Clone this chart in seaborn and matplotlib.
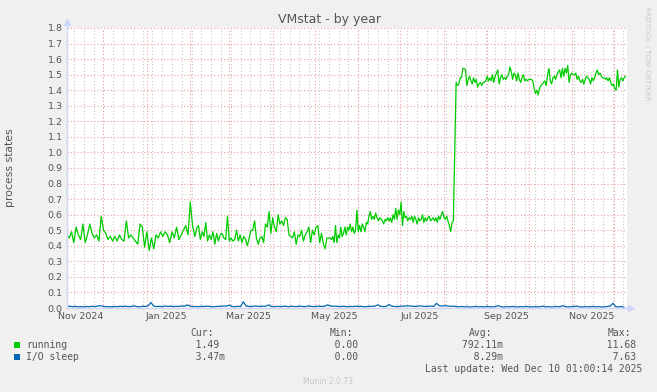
#!/usr/bin/env python3
"""
Munin style VMstat yearly graph (process states)
"""

import pandas as pd
import numpy as np
import matplotlib
matplotlib.use('Agg')
import matplotlib.pyplot as plt
from matplotlib.patches import Rectangle
import seaborn as sns

# running processes in four stretches
running_nov_feb = [0.47, 0.45, 0.49, 0.42, 0.52, 0.47, 0.44, 0.54, 0.42, 0.47, 0.54, 0.48, 0.45, 0.47,
                   0.43, 0.59, 0.50, 0.48, 0.44, 0.46, 0.43, 0.46, 0.43, 0.47, 0.44, 0.43, 0.56, 0.45,
                   0.47, 0.45, 0.43, 0.41, 0.54, 0.52, 0.39, 0.49, 0.37, 0.45, 0.38, 0.47, 0.45, 0.49,
                   0.46, 0.49, 0.47, 0.42, 0.49, 0.45, 0.52, 0.44, 0.47, 0.50, 0.53, 0.47, 0.68, 0.53,
                   0.46, 0.52]
running_feb_may = [0.53, 0.44, 0.49, 0.46, 0.55, 0.43, 0.47, 0.44, 0.49, 0.41, 0.48, 0.43, 0.47, 0.48,
                   0.45, 0.44, 0.59, 0.43, 0.45, 0.43, 0.44, 0.50, 0.43, 0.47, 0.42, 0.46, 0.44, 0.40,
                   0.45, 0.50, 0.50, 0.56, 0.45, 0.41, 0.45, 0.46, 0.42, 0.54, 0.52, 0.62, 0.48, 0.58,
                   0.52, 0.49, 0.60, 0.54, 0.56, 0.53, 0.58, 0.57, 0.47, 0.46, 0.45, 0.49, 0.41, 0.47,
                   0.46, 0.50, 0.43, 0.47, 0.49, 0.52, 0.42, 0.50, 0.47, 0.52, 0.53, 0.42, 0.48, 0.41,
                   0.38, 0.45, 0.45]
running_may_aug = [0.45, 0.44, 0.46, 0.42, 0.53, 0.42, 0.47, 0.45, 0.52, 0.46, 0.48, 0.52, 0.47, 0.52,
                   0.50, 0.54, 0.49, 0.52, 0.48, 0.50, 0.63, 0.49, 0.53, 0.49, 0.54, 0.52, 0.49, 0.55,
                   0.54, 0.59, 0.62, 0.57, 0.59, 0.57, 0.61, 0.58, 0.56, 0.58, 0.57, 0.56, 0.54, 0.57,
                   0.56, 0.58, 0.56, 0.58, 0.55, 0.60, 0.57, 0.64, 0.57, 0.63, 0.60, 0.68, 0.53, 0.62,
                   0.58, 0.59, 0.56, 0.58, 0.57, 0.59, 0.55, 0.59, 0.57, 0.54, 0.58, 0.56, 0.57, 0.60,
                   0.55, 0.58, 0.56, 0.58, 0.59, 0.56, 0.57, 0.58, 0.56, 0.58, 0.55, 0.59, 0.57, 0.60,
                   0.62, 0.58, 0.57, 0.59, 0.56, 0.53, 0.49, 0.55, 0.56]
running_aug_dec = [1.45, 1.43, 1.44, 1.48, 1.48, 1.54, 1.54, 1.53, 1.43, 1.47, 1.49, 1.46, 1.44, 1.48,
                   1.45, 1.47, 1.42, 1.44, 1.45, 1.43, 1.45, 1.45, 1.46, 1.49, 1.46, 1.48, 1.46, 1.50,
                   1.45, 1.49, 1.51, 1.53, 1.44, 1.48, 1.50, 1.47, 1.48, 1.47, 1.49, 1.50, 1.55, 1.52,
                   1.47, 1.51, 1.50, 1.46, 1.51, 1.47, 1.45, 1.48, 1.50, 1.46, 1.47, 1.46, 1.47, 1.47,
                   1.47, 1.46, 1.41, 1.38, 1.40, 1.37, 1.41, 1.43, 1.44, 1.45, 1.46, 1.43, 1.50, 1.54,
                   1.46, 1.44, 1.48, 1.49, 1.47, 1.50, 1.52, 1.53, 1.48, 1.54, 1.49, 1.54, 1.51, 1.56,
                   1.45, 1.50, 1.51, 1.50, 1.50, 1.51, 1.47, 1.49, 1.46, 1.45, 1.47, 1.44, 1.47, 1.49,
                   1.48, 1.47, 1.44, 1.48, 1.46, 1.48, 1.51, 1.53, 1.50, 1.51, 1.49, 1.48, 1.48, 1.47,
                   1.48, 1.46, 1.48, 1.45, 1.43, 1.44, 1.41, 1.40, 1.53, 1.42, 1.47, 1.48, 1.46, 1.48,
                   1.49]
running_periods = [('2024-11-05', '2025-02-06'), ('2025-02-07', '2025-05-11'),
                   ('2025-05-12', '2025-08-08'), ('2025-08-10', '2025-12-09')]

# I/O sleep, one reading every two days from 2024-11-05
io_sleep = [0.010, 0.012, 0.008, 0.011, 0.007, 0.009, 0.006, 0.010, 0.008, 0.011,
            0.009, 0.013, 0.015, 0.010, 0.008, 0.009, 0.007, 0.010, 0.008, 0.011,
            0.009, 0.012, 0.008, 0.010, 0.013, 0.009, 0.007, 0.011, 0.010, 0.014,
            0.035, 0.012, 0.009, 0.011, 0.008, 0.013, 0.010, 0.012, 0.009, 0.011,
            0.010, 0.013, 0.011, 0.020, 0.012, 0.009, 0.010, 0.008, 0.011, 0.009,
            0.012, 0.010, 0.008, 0.009, 0.011, 0.010, 0.013, 0.012, 0.018, 0.010,
            0.008, 0.011, 0.009, 0.040, 0.012, 0.010, 0.009, 0.013, 0.011, 0.010,
            0.012, 0.011, 0.020, 0.010, 0.008, 0.011, 0.009, 0.010, 0.012, 0.008,
            0.011, 0.010, 0.009, 0.012, 0.010, 0.008, 0.013, 0.011, 0.009, 0.010,
            0.012, 0.010, 0.011, 0.020, 0.013, 0.011, 0.012, 0.009, 0.010, 0.011,
            0.008, 0.010, 0.009, 0.012, 0.010, 0.011, 0.008, 0.009, 0.011, 0.010,
            0.012, 0.020, 0.011, 0.009, 0.010, 0.022, 0.012, 0.010, 0.009, 0.011,
            0.012, 0.013, 0.014, 0.012, 0.010, 0.011, 0.013, 0.012, 0.010, 0.011,
            0.012, 0.010, 0.030, 0.014, 0.012, 0.015, 0.013, 0.011, 0.012, 0.009,
            0.008, 0.010, 0.007, 0.009, 0.006, 0.008, 0.010, 0.007, 0.009, 0.006,
            0.010, 0.008, 0.007, 0.009, 0.015, 0.008, 0.006, 0.009, 0.007, 0.010,
            0.008, 0.006, 0.009, 0.007, 0.010, 0.008, 0.006, 0.009, 0.007, 0.008,
            0.012, 0.007, 0.009, 0.006, 0.008, 0.010, 0.007, 0.015, 0.009, 0.007,
            0.008, 0.010, 0.012, 0.008, 0.006, 0.009, 0.007, 0.008, 0.010, 0.007,
            0.009, 0.006, 0.008, 0.010, 0.012, 0.030, 0.009, 0.007, 0.010, 0.004]

x_tick_labels = ['Nov 2024', 'Jan 2025', 'Mar 2025', 'May 2025', 'Jul 2025', 'Sep 2025', 'Nov 2025']
y_ticks = [0.0, 0.1, 0.2, 0.3, 0.4, 0.5, 0.6, 0.7, 0.8, 0.9, 1.0, 1.1, 1.2, 1.3, 1.4, 1.5, 1.6, 1.7, 1.8]

series_names = ['running', 'I/O sleep']
series_colors = ['#00CC00', '#0066B3']
cur_vals = ['1.49', '3.47m']
min_vals = ['0.00', '0.00']
avg_vals = ['792.11m', '8.29m']
max_vals = ['11.68', '7.63']
last_update = 'Last update: Wed Dec 10 01:00:14 2025'

W, H = 657, 392
TEXT = '#555555'
FAINT = '#c8c8c8'
AXIS = '#CFD6F8'
CHAR_W = 0.602 * 7 / 72 * 100  # DejaVu Sans Mono advance at 7pt


def fx(x):
    return x / W


def fy(y):
    return 1 - y / H


def build_frame():
    frames = []
    for vals, (start, end) in zip([running_nov_feb, running_feb_may, running_may_aug, running_aug_dec],
                                  running_periods):
        frames.append(pd.DataFrame({'date': pd.date_range(start, end, periods=len(vals)),
                                    'value': vals}))
    running = pd.concat(frames)
    running['series'] = series_names[0]
    io = pd.DataFrame({'date': pd.date_range('2024-11-05', periods=len(io_sleep), freq='2D'),
                       'value': io_sleep})
    io['series'] = series_names[1]
    return pd.concat([running, io], ignore_index=True)


def main():
    sns.set_style('white')
    plt.rcParams['font.family'] = ['DejaVu Sans']

    df = build_frame()

    fig = plt.figure(figsize=(W / 100, H / 100), dpi=100, facecolor='#F0F0F0')
    ax = fig.add_axes([fx(67), fy(308), fx(560), 280 / H])
    ax.set_facecolor('white')

    t0 = pd.Timestamp('2024-11-05 01:00')
    t1 = pd.Timestamp('2025-12-10 01:00')

    # grid: weekly gray, monthly red, every 0.1 red
    for d in pd.date_range('2024-11-10', '2025-12-07', freq='W-SUN'):
        ax.axvline(d, color=FAINT, lw=0.8, ls=(0, (1, 2)), zorder=0.5)
    for d in pd.date_range('2024-12-01', '2025-12-01', freq='MS'):
        ax.axvline(d, color='#eaa0a0', lw=0.8, ls=(0, (1, 2)), zorder=0.6)
    for v in y_ticks[1:]:
        ax.axhline(v, color='#eaa0a0', lw=0.8, ls=(0, (1, 2)), zorder=0.6)

    sns.lineplot(data=df, x='date', y='value', hue='series',
                 palette=dict(zip(series_names, series_colors)),
                 estimator=None, legend=False, linewidth=0.9, ax=ax, zorder=3)

    ax.set_xlim(t0, t1)
    ax.set_ylim(0, 1.8)

    label_pos = pd.date_range('2024-11-01', '2025-11-01', freq='2MS') + pd.Timedelta(days=14)
    ax.set_xticks(label_pos)
    ax.set_xticklabels(x_tick_labels)
    ax.set_yticks(y_ticks)
    ax.set_yticklabels([f'{v:.1f}' for v in y_ticks])
    ax.tick_params(axis='both', length=0, labelsize=6.8, colors=TEXT, pad=3)
    ax.set_xlabel('')
    ax.set_ylabel('')

    for side in ['top', 'right']:
        ax.spines[side].set_visible(False)
    for side in ['left', 'bottom']:
        ax.spines[side].set_color(AXIS)
        ax.spines[side].set_linewidth(1.0)
        ax.spines[side].set_zorder(4)

    # axis arrows
    ax.plot([0, 0], [1, 1.02], color=AXIS, lw=1, transform=ax.transAxes, clip_on=False)
    ax.plot([0], [1.02], marker='^', ms=4, color=AXIS, transform=ax.transAxes, clip_on=False)
    ax.plot([1, 1.008], [0, 0], color=AXIS, lw=1, transform=ax.transAxes, clip_on=False)
    ax.plot([1.008], [0], marker='>', ms=4, color=AXIS, transform=ax.transAxes, clip_on=False)

    fig.text(fx(329), fy(19), 'VMstat - by year', ha='center', va='center', fontsize=9, color=TEXT)
    fig.text(fx(10), fy(168), 'process states', ha='center', va='center', rotation=90,
             fontsize=7.8, color=TEXT)
    fig.text(fx(647), fy(53), 'RRDTOOL / TOBI OETIKER', ha='center', va='center', rotation=270,
             fontsize=5.3, color=FAINT)

    # legend, laid out on a monospace grid like rrdtool
    mono = 'DejaVu Sans Mono'
    col_end = [219, 358, 497, 636]
    for x, head in zip(col_end, ['Cur:', 'Min:', 'Avg:', 'Max:']):
        fig.text(fx(x - 5), fy(333), head, ha='right', va='center', family=mono, fontsize=7, color=TEXT)
    for i, name in enumerate(series_names):
        y = 345 + i * 12
        fig.patches.append(Rectangle((fx(14), fy(y + 3)), fx(6), 6 / H, transform=fig.transFigure,
                                     facecolor=series_colors[i], edgecolor='none'))
        fig.text(fx(26), fy(y), name, ha='left', va='center', family=mono, fontsize=7, color=TEXT)
        for x, vals in zip(col_end, [cur_vals, min_vals, avg_vals, max_vals]):
            s = vals[i]
            digits = s.rstrip('m')
            unit = s[len(digits):] or ' '
            cell = digits.rjust(7) + unit
            fig.text(fx(x - 7 * CHAR_W), fy(y), cell, ha='left', va='center', family=mono,
                     fontsize=7, color=TEXT)
    fig.text(fx(642), fy(369), last_update, ha='right', va='center', family=mono, fontsize=7, color=TEXT)
    fig.text(fx(328), fy(381), 'Munin 2.0.73', ha='center', va='center', fontsize=5.5, color=FAINT)

    fig.savefig('out.png', dpi=100, facecolor=fig.get_facecolor())
    plt.close(fig)


if __name__ == '__main__':
    main()
